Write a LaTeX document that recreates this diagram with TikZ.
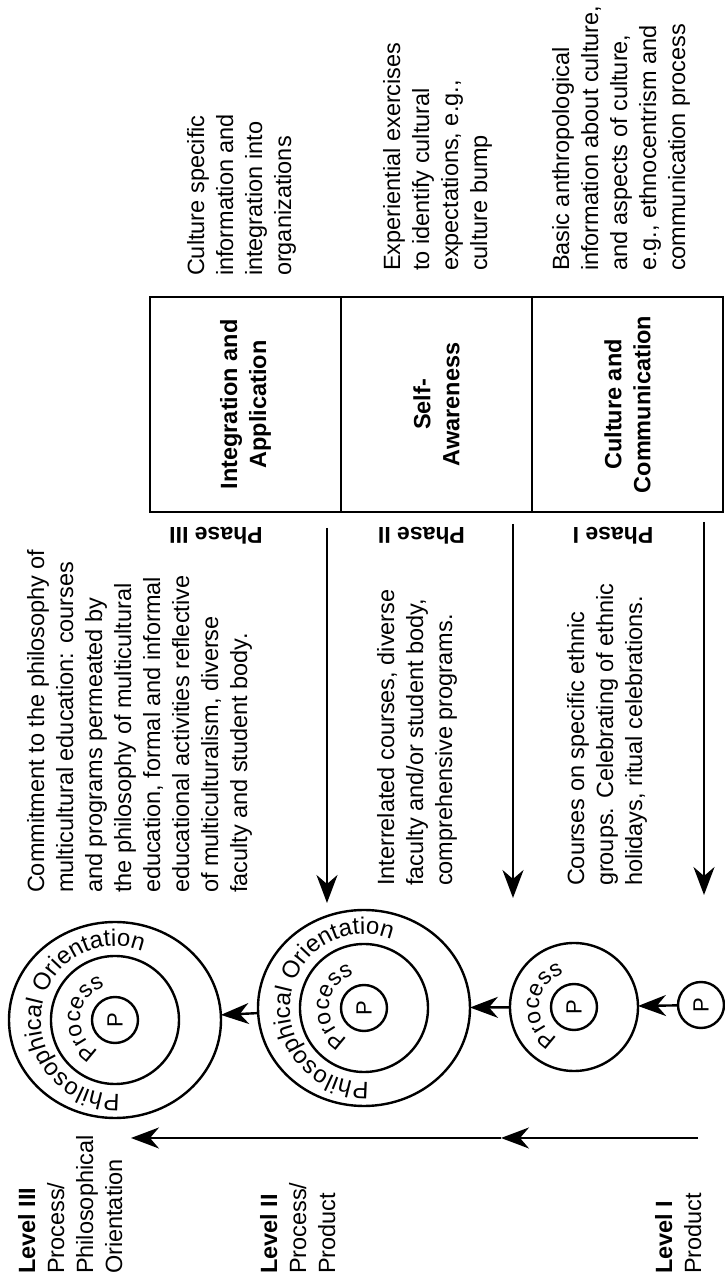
\documentclass[tikz,border=0pt]{standalone}
\usepackage{fontspec}
\setmainfont{Liberation Sans}
\usetikzlibrary{arrows.meta,shapes.geometric,decorations.text}
\newcommand\circfont{\fontsize{24}{24}\selectfont}
\newcommand\procfont{\fontsize{23}{23}\selectfont}
\begin{document}
\begin{tikzpicture}[x=1pt,y=1pt,rotate=90,transform shape,
  every node/.style={inner sep=0pt, outer sep=0pt},
  body/.style={align=left, anchor=north west, font=\fontsize{23.5}{29}\selectfont},
  cell/.style={draw, line width=2.4pt, minimum width=215pt, minimum height=191pt, align=center, font=\bfseries\fontsize{23.5}{29}\selectfont},
  phase/.style={rotate=90, font=\bfseries\fontsize{23}{29}\selectfont},
  ring/.style={draw, line width=2.4pt, ellipse, minimum width=196pt, minimum height=212pt},
  midc/.style={draw, line width=2.4pt, circle, minimum size=128pt},
  pc/.style={draw, line width=2.4pt, circle, minimum size=46pt, font=\fontsize{22}{22}\selectfont},
  arr/.style={line width=2.4pt, -{Stealth[length=28pt,width=21pt,inset=9pt]}},
]
\useasboundingbox (0,0) rectangle (1284,724);

% box
\node[cell] (int) at (879.5,478.5) {Integration and\\Application};
\node[cell] (self) at (879.5,287.5) {Self-\\Awareness};
\node[cell] (cc) at (879.5,96.5) {Culture and\\Communication};

% right-hand texts
\node[body] (t1) at (1008,537) {Culture specific\\information and\\integration into\\organizations};
\node[body] (t2) at (1013,341) {Experiential exercises\\to identify cultural\\expectations, e.g.,\\culture bump};
\node[body] (t3) at (1013,172) {Basic anthropological\\information about culture,\\and aspects of culture,\\e.g., ethnocentrism and\\communication process};

% middle texts
\node[body] (m3) at (391,697) {Commitment to the philosophy of\\multicultural education: courses\\and programs permeated by\\the philosophy of multicultural\\education, formal and informal\\educational activities reflective\\of multiculturalism, diverse\\faculty and student body.};
\node[body] (m2) at (398,347) {Interrelated courses, diverse\\faculty and/or student body,\\comprehensive programs.};
\node[body] (m1) at (398,157) {Courses on specific ethnic\\groups. Celebrating of ethnic\\holidays, ritual celebrations.};

% phase labels
\node[phase] (ph3) at (748,508) {Phase III};
\node[phase] (ph2) at (748,302.5) {Phase II};
\node[phase] (ph1) at (748,111) {Phase I};

% phase arrows
\coordinate (a3s) at (756,397); \coordinate (a3e) at (381,397);
\coordinate (a2s) at (760,211); \coordinate (a2e) at (386,211);
\coordinate (a1s) at (762,20);  \coordinate (a1e) at (389,20);
\draw[arr] (a3s) -- (a3e);
\draw[arr] (a2s) -- (a2e);
\draw[arr] (a1s) -- (a1e);

% circles
\node[ring] (c3o) at (264,609) {};
\node[midc] (c3m) at (264,609) {};
\node[pc] (c3p) at (264,609) {P};
\node[ring] (c2o) at (276,360) {};
\node[midc] (c2m) at (276,360) {};
\node[pc] (c2p) at (276,360) {P};
\node[midc] (c1m) at (277,150) {};
\node[pc] (c1p) at (277,150) {P};
\node[pc] (p0) at (279,23) {P};

\draw[arr] (p0) -- (c1m);
\draw[arr] (c1m) -- (c2o);
\draw[arr] (c2o) -- (c3o);

% curved texts
\path[decorate,decoration={text along path,text align=center,text={|\circfont|Philosophical Orientation}}]
  (c3o.center) ++(192:74) arc[start angle=192,end angle=-30,radius=74];
\path[decorate,decoration={text along path,text align=center,text={|\circfont|Philosophical Orientation}}]
  (c2o.center) ++(192:74) arc[start angle=192,end angle=-30,radius=74];
\path[decorate,decoration={text along path,text align=center,text={|\procfont|Process}}]
  (c3o.center) ++(168:35) arc[start angle=168,end angle=2,radius=35];
\path[decorate,decoration={text along path,text align=center,text={|\procfont|Process}}]
  (c2o.center) ++(168:35) arc[start angle=168,end angle=2,radius=35];
\path[decorate,decoration={text along path,text align=center,text={|\procfont|Process}}]
  (c1m.center) ++(168:35) arc[start angle=168,end angle=2,radius=35];

% level axis
\coordinate (L0) at (146,26); \coordinate (Lm) at (146,223); \coordinate (L1) at (146,593);
\draw[arr] (L0) -- (Lm);
\draw[arr] (Lm) -- (L1);

% level labels
\node[body] (lv3) at (10,706) {\textbf{Level III}\\Process/\\Philosophical\\Orientation};
\node[body] (lv2) at (10,464) {\textbf{Level II}\\Process/\\Product};
\node[body] (lv1) at (10,69) {\textbf{Level I}\\Product};
\end{tikzpicture}
\end{document}
